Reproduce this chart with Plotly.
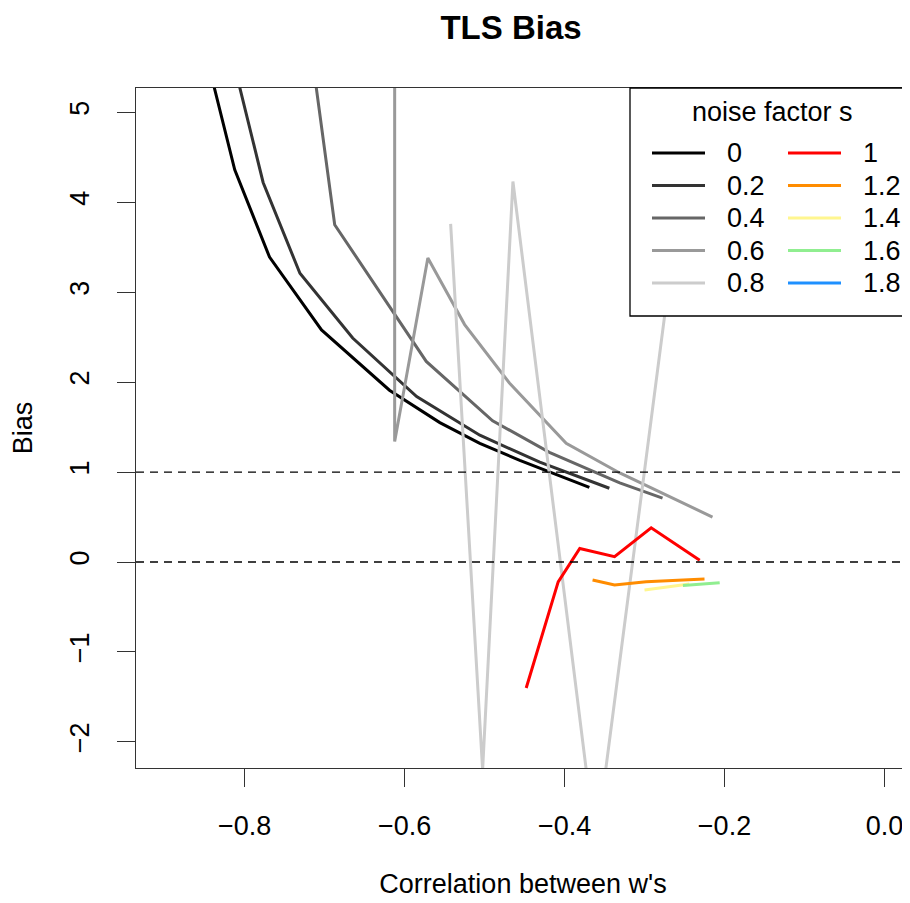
import plotly.graph_objects as go

# ---------- dados ----------
S0_X = [-0.850, -0.8125, -0.769, -0.704, -0.619, -0.556, -0.506, -0.456, -0.4125, -0.369]
S0_Y = [5.70, 4.36, 3.39, 2.58, 1.91, 1.55, 1.32, 1.13, 0.98, 0.83]

S02_X = [-0.818, -0.777, -0.731, -0.665, -0.585, -0.506, -0.431, -0.344]
S02_Y = [5.70, 4.22, 3.21, 2.49, 1.84, 1.41, 1.11, 0.82]

S04_X = [-0.717, -0.6875, -0.573, -0.490, -0.419, -0.331, -0.2775]
S04_Y = [5.70, 3.75, 2.23, 1.57, 1.22, 0.88, 0.71]

S06_X = [-0.6125, -0.6125, -0.571, -0.525, -0.469, -0.398, -0.331, -0.215]
S06_Y = [30.0, 1.34, 3.38, 2.64, 1.99, 1.32, 0.99, 0.50]

S08_X = [-0.5425, -0.5025, -0.4646, -0.361, -0.256]
S08_Y = [3.76, -2.31, 4.23, -3.16, 4.03]

S1_X = [-0.448, -0.408, -0.381, -0.3375, -0.2917, -0.231]
S1_Y = [-1.40, -0.22, 0.15, 0.06, 0.38, 0.02]

S12_X = [-0.365, -0.3375, -0.298, -0.225]
S12_Y = [-0.20, -0.256, -0.22, -0.19]

S14_X = [-0.300, -0.244]
S14_Y = [-0.31, -0.245]

S16_X = [-0.252, -0.206]
S16_Y = [-0.26, -0.23]

S18_X = []
S18_Y = []

NOISE = ["0", "0.2", "0.4", "0.6", "0.8", "1", "1.2", "1.4", "1.6", "1.8"]
CORES = ["#000000", "#333333", "#666666", "#999999", "#cccccc",
         "#ff0000", "#ff8c00", "#fff68f", "#90ee90", "#1e90ff"]
SERIES = [(S0_X, S0_Y), (S02_X, S02_Y), (S04_X, S04_Y), (S06_X, S06_Y), (S08_X, S08_Y),
          (S1_X, S1_Y), (S12_X, S12_Y), (S14_X, S14_Y), (S16_X, S16_Y), (S18_X, S18_Y)]
REF_LINES = [0, 1]

FONT = "Liberation Sans, Arial, sans-serif"
FS = 27
W, H = 902, 895          # a página do plotly tem 8px de margem no body
L, T, B = 128, 80, 135
PW, PH = W - L, H - T - B

fig = go.Figure()
for (xs, ys), nome, cor in zip(SERIES, NOISE, CORES):
    fig.add_trace(go.Scatter(x=xs if xs else [None], y=ys if ys else [None], mode="lines",
                             name=nome, line=dict(color=cor, width=3), showlegend=False))

for v in REF_LINES:
    fig.add_hline(y=v, line=dict(color="black", width=1.3, dash="8px,6px"))

# ---------- legenda no estilo do R (2 colunas, caixa branca) ----------
px_x = lambda v: (v - L) / PW
px_y = lambda v: (H - B - v) / PH
fig.add_shape(type="rect", xref="paper", yref="paper", x0=px_x(622), x1=1.05, y0=px_y(308), y1=1.0,
              line=dict(color="black", width=1.3), fillcolor="white", layer="above")
fig.add_annotation(text="noise factor s", xref="paper", yref="paper", x=px_x(764), y=px_y(104),
                   showarrow=False, font=dict(family=FONT, size=FS, color="black"),
                   xanchor="center", yanchor="middle")
for i, (nome, cor) in enumerate(zip(NOISE, CORES)):
    col, row = divmod(i, 5)
    yy = px_y(145 + row * 32.5)
    x0 = 644 + col * 136
    fig.add_shape(type="line", xref="paper", yref="paper", x0=px_x(x0), x1=px_x(x0 + 53),
                  y0=yy, y1=yy, line=dict(color=cor, width=3), layer="above")
    fig.add_annotation(text=nome, xref="paper", yref="paper", x=px_x(x0 + 73), y=yy,
                       showarrow=False, xanchor="left", yanchor="middle",
                       font=dict(family=FONT, size=FS, color="black"))

fig.update_layout(
    width=W, height=H,
    margin=dict(l=L, r=0, t=T, b=B),
    paper_bgcolor="white", plot_bgcolor="white",
    font=dict(family=FONT, size=FS, color="black"),
    title=dict(text="<b>TLS Bias</b>", x=503 / W, xref="container", xanchor="center",
               y=1 - 19 / H, yref="container", yanchor="middle",
               font=dict(family=FONT, size=33, color="black")),
    showlegend=False,
    xaxis=dict(range=[-0.936, 0.032], tickvals=[-0.8, -0.6, -0.4, -0.2, 0.0], tickformat=".1f",
               showgrid=False, zeroline=False, showline=True, linecolor="#333", linewidth=1.3,
               mirror=True, ticks="outside", ticklen=18, tickcolor="#333", tickwidth=1.3,
               ticklabelstandoff=15,
               title=dict(text="Correlation between w's", standoff=34,
                          font=dict(family=FONT, size=FS))),
    yaxis=dict(range=[-2.29, 5.27], tickvals=[-2, -1, 0, 1, 2, 3, 4, 5], tickangle=-90,
               showgrid=False, zeroline=False, showline=True, linecolor="#333", linewidth=1.3,
               mirror=False, ticks="outside", ticklen=18, tickcolor="#333", tickwidth=1.3,
               ticklabelstandoff=17,
               title=dict(text="Bias", standoff=34, font=dict(family=FONT, size=FS))),
)

fig.write_html("out.html")
